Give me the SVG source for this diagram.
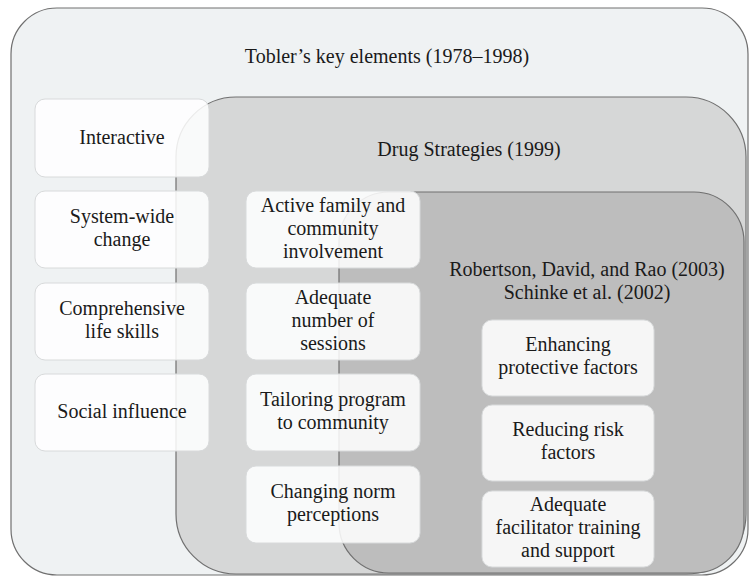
<svg xmlns="http://www.w3.org/2000/svg" width="749" height="577" viewBox="0 0 749 577" font-family="'Liberation Serif', 'DejaVu Serif', serif">
<style>
.c{stroke:#707070;stroke-width:1.2}
.n rect{fill:#ffffff;fill-opacity:0.86;stroke:#d8dadb;stroke-width:1}
text{font-family:'Liberation Serif','DejaVu Serif',serif;font-size:20px;fill:#1a1a1a;text-anchor:middle}
</style>
<rect width="749" height="577" fill="#ffffff"/>
<g id="tobler">
<rect class="c" x="11" y="8" width="737" height="567" rx="46" ry="46" fill="#eff2f3"/>
<text x="387" y="63">Tobler’s key elements (1978–1998)</text>
</g>
<g id="drug-strategies">
<rect class="c" x="176" y="97" width="570" height="477" rx="60" ry="60" fill="#d6d7d7"/>
<text x="469" y="156">Drug Strategies (1999)</text>
</g>
<g id="robertson">
<rect class="c" x="339" y="192" width="405" height="381" rx="50" ry="50" fill="#bdbdbd"/>
<text x="587" y="276">Robertson, David, and Rao (2003)</text>
<text x="587" y="299">Schinke et al. (2002)</text>
</g>
<g id="interactive" class="n"><rect x="35" y="99" width="174" height="78" rx="10"/><text x="122" y="144">Interactive</text></g>
<g id="system-wide" class="n"><rect x="35" y="191" width="174" height="77" rx="10"/><text x="122" y="223">System-wide</text><text x="122" y="246">change</text></g>
<g id="comprehensive" class="n"><rect x="35" y="283" width="174" height="77" rx="10"/><text x="122" y="315">Comprehensive</text><text x="122" y="338">life skills</text></g>
<g id="social-influence" class="n"><rect x="35" y="374" width="174" height="77" rx="10"/><text x="122" y="418">Social influence</text></g>
<g id="active-family" class="n"><rect x="246" y="191" width="174" height="77" rx="10"/><text x="333" y="212">Active family and</text><text x="333" y="235">community</text><text x="333" y="258">involvement</text></g>
<g id="adequate-sessions" class="n"><rect x="246" y="283" width="174" height="77" rx="10"/><text x="333" y="304">Adequate</text><text x="333" y="327">number of</text><text x="333" y="350">sessions</text></g>
<g id="tailoring" class="n"><rect x="246" y="374" width="174" height="77" rx="10"/><text x="333" y="406">Tailoring program</text><text x="333" y="429">to community</text></g>
<g id="changing-norm" class="n"><rect x="246" y="466" width="174" height="77" rx="10"/><text x="333" y="498">Changing norm</text><text x="333" y="521">perceptions</text></g>
<g id="enhancing" class="n"><rect x="482" y="320" width="172" height="76" rx="10"/><text x="568" y="351">Enhancing</text><text x="568" y="374">protective factors</text></g>
<g id="reducing-risk" class="n"><rect x="482" y="405" width="172" height="76" rx="10"/><text x="568" y="436">Reducing risk</text><text x="568" y="459">factors</text></g>
<g id="facilitator-training" class="n"><rect x="482" y="491" width="172" height="76" rx="10"/><text x="568" y="511">Adequate</text><text x="568" y="534">facilitator training</text><text x="568" y="557">and support</text></g>
<g id="connectors"></g>
</svg>
